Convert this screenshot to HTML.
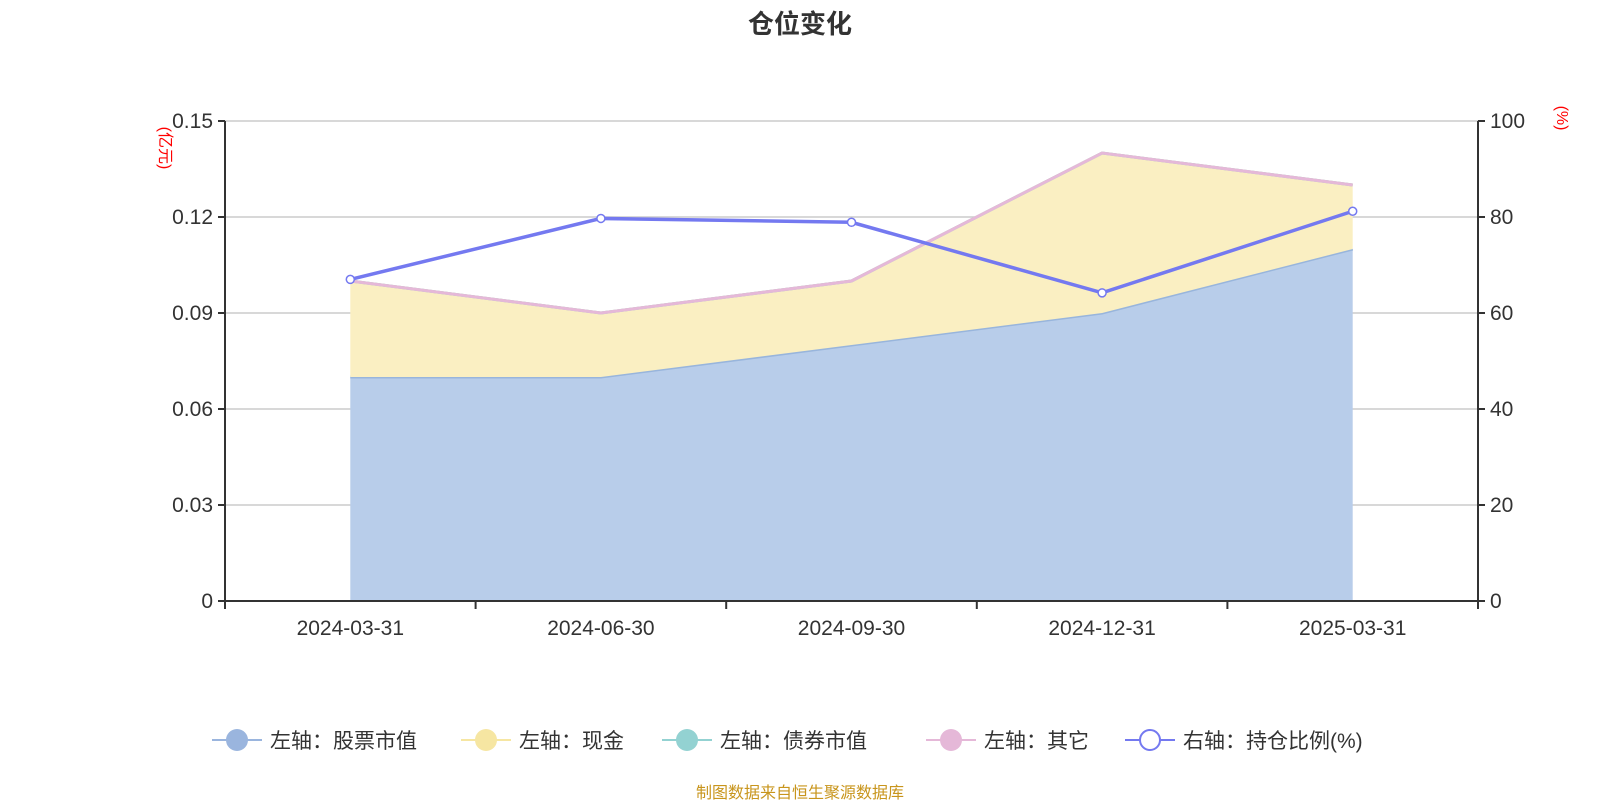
<!DOCTYPE html>
<html><head><meta charset="utf-8"><style>
body{margin:0;background:#fff;font-family:"Liberation Sans","Noto Sans CJK SC",sans-serif;}
</style></head><body>
<svg width="1600" height="800" xmlns="http://www.w3.org/2000/svg" font-family="Liberation Sans, Noto Sans CJK SC, sans-serif">
<text x="800" y="33" text-anchor="middle" font-size="26" font-weight="bold" fill="#333">仓位变化</text>
<g id="grid"></g><g id="areas"></g><g id="axes"></g><g id="legend"></g>
<text transform="translate(160,148) rotate(90)" text-anchor="middle" font-size="16" fill="red">(亿元)</text>
<text transform="translate(1557,118) rotate(90)" text-anchor="middle" font-size="16" fill="red">(%)</text>
<text x="800" y="798" text-anchor="middle" font-size="16" fill="#c8951c">制图数据来自恒生聚源数据库</text>
</svg>
<script>
const categories=["2024-03-31","2024-06-30","2024-09-30","2024-12-31","2025-03-31"];
const stockValues=[0.07,0.07,0.08,0.09,0.11];
const cashValues=[0.03,0.02,0.02,0.05,0.02];
const bondValues=[0,0,0,0,0];
const otherValues=[0,0,0,0,0];
const ratioValues=[67,79.7,78.9,64.2,81.2];
const leftTicks=["0","0.03","0.06","0.09","0.12","0.15"];
const rightTicks=["0","20","40","60","80","100"];
const NS="http://www.w3.org/2000/svg";
const L=225,R=1478,T=121,B=601,band=(R-L)/categories.length;
const xS=i=>L+band*(i+0.5);
const yL=v=>B-(v/0.15)*(B-T);
const yR=v=>B-(v/100)*(B-T);
function mk(p,tag,at){const e=document.createElementNS(NS,tag);for(const k in at)e.setAttribute(k,at[k]);p.appendChild(e);return e;}
const grid=document.getElementById('grid'),areas=document.getElementById('areas'),axes=document.getElementById('axes'),lg=document.getElementById('legend');
leftTicks.forEach((t,i)=>{const y=B-i*(B-T)/5;
 if(i>0){const g=mk(grid,'line',{x1:L,x2:R,y1:y,y2:y,stroke:'#ccc','stroke-width':1.5});}
 const tk=mk(axes,'line',{x1:L-7,x2:L,y1:y,y2:y,stroke:'#333','stroke-width':2});
 const a=mk(axes,'text',{x:L-12,y:y+7,'text-anchor':'end','font-size':21,fill:'#333'});a.textContent=t;
 mk(axes,'line',{x1:R,x2:R+7,y1:y,y2:y,stroke:'#333','stroke-width':2});
 const b=mk(axes,'text',{x:R+12,y:y+7,'font-size':21,fill:'#333'});b.textContent=rightTicks[i];
});
// stacks
let base=categories.map(()=>0);
const series=[[stockValues,'#b8cdea','#98b5dc','stock-area'],[cashValues,'#faefc2','#f3e4a0','cash-area'],[bondValues,'none','#93d2d2','bond-area'],[otherValues,'none','#e5b8d8','other-area']];
series.forEach(([vals,fill,stroke,name])=>{
 const top=vals.map((v,i)=>base[i]+v);
 let d=top.map((v,i)=>(i?'L':'M')+xS(i)+','+yL(v)).join(' ');
 let back=base.map((v,i)=>'L'+xS(i)+','+yL(v)).reverse().join(' ');
 if(fill!=='none'){const a=mk(areas,'path',{d:d+' '+back+' Z',fill:fill});}
 const l=mk(areas,'path',{d:d,fill:'none',stroke:stroke,'stroke-width':3});
 base=top;
});
const rd=ratioValues.map((v,i)=>(i?'L':'M')+xS(i)+','+yR(v)).join(' ');
const rl=mk(areas,'path',{d:rd,fill:'none',stroke:'#7479f0','stroke-width':3.5});
ratioValues.forEach((v,i)=>{const c=mk(areas,'circle',{cx:xS(i),cy:yR(v),r:4,fill:'#fff',stroke:'#7479f0','stroke-width':1.5});});
mk(axes,'line',{x1:L,x2:L,y1:T,y2:B,stroke:'#333','stroke-width':2});
mk(axes,'line',{x1:R,x2:R,y1:T,y2:B,stroke:'#333','stroke-width':2});
mk(axes,'line',{x1:L,x2:R,y1:B,y2:B,stroke:'#333','stroke-width':2});
for(let i=0;i<=categories.length;i++){mk(axes,'line',{x1:L+band*i,x2:L+band*i,y1:B,y2:B+8,stroke:'#333','stroke-width':2});}
categories.forEach((c,i)=>{const t=mk(axes,'text',{x:xS(i),y:635,'text-anchor':'middle','font-size':21,fill:'#333'});t.textContent=c;});
const legendItems=[["左轴：股票市值",'#9ab5de',212],["左轴：现金",'#f6e6a2',461],["左轴：债券市值",'#93d2d2',662],["左轴：其它",'#e5b8d8',926],["右轴：持仓比例(%)",'#7479f0',1125]];
legendItems.forEach(([label,col,x],i)=>{
 const g=mk(lg,'g',{});
 mk(g,'line',{x1:x,x2:x+50,y1:740,y2:740,stroke:col,'stroke-width':2});
 if(i===4)mk(g,'circle',{cx:x+25,cy:740,r:10,fill:'#fff',stroke:col,'stroke-width':2});
 else mk(g,'circle',{cx:x+25,cy:740,r:11,fill:col});
 const t=mk(g,'text',{x:x+58,y:748,'font-size':21,fill:'#333'});t.textContent=label;
});
</script>
</body></html>
